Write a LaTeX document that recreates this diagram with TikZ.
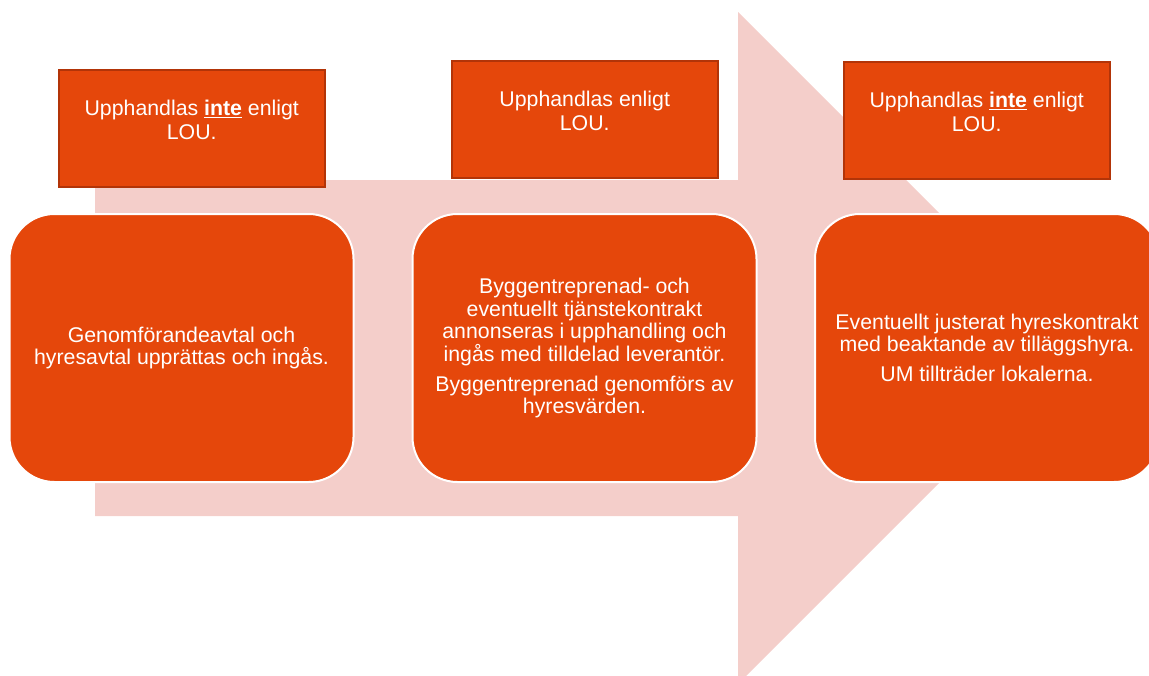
\documentclass[tikz,border=0pt]{standalone}
\usepackage{fontspec}
\setmainfont{Liberation Sans}
\definecolor{umorange}{RGB}{229,71,11}
\definecolor{loukant}{RGB}{178,52,8}
\definecolor{pil}{RGB}{244,206,202}
\newcommand{\toptxt}{\fontsize{21.3}{24}\selectfont}
\newcommand{\fastxt}{\fontsize{21.3}{22.5}\selectfont}
\newcommand{\loutext}[1]{\parbox[t][117pt][t]{266pt}{\centering\vspace*{30.5pt}#1}}
\begin{document}
\begin{tikzpicture}[x=1pt, y=-1pt,
  lou/.style={draw=loukant, line width=1.5pt, fill=umorange, text=white, inner sep=0pt, anchor=north west, font=\toptxt},
  fas/.style={draw=white, line width=2pt, fill=umorange, text=white, rounded corners=45pt, minimum width=344pt, minimum height=268pt, align=center, font=\fastxt}]
\useasboundingbox (0,0) rectangle (1149,675);
\clip (0,0) rectangle (1149,675);
% stor pil i bakgrunden
\fill[pil] (95,180) -- (738,180) -- (738,12) -- (1074,348) -- (738,684) -- (738,516) -- (95,516) -- cycle;
% LOU-rutor
\node[lou] (lou1) at (58,69) {\loutext{Upphandlas \underline{\textbf{inte}} enligt\\LOU.}};
\node[lou] (lou2) at (451,60) {\loutext{Upphandlas enligt\\LOU.}};
\node[lou] (lou3) at (843,61) {\loutext{Upphandlas \underline{\textbf{inte}} enligt\\LOU.}};
% faser
\node[fas] (fas1) at (181.5,348) {Genomförandeavtal och\\hyresavtal upprättas och ingås.};
\node[fas] (fas2) at (584.5,348) {Byggentreprenad- och\\eventuellt tjänstekontrakt\\annonseras i upphandling och\\ingås med tilldelad leverantör.\\[7.5pt]Byggentreprenad genomförs av\\hyresvärden.};
\node[fas] (fas3) at (987,348) {Eventuellt justerat hyreskontrakt\\med beaktande av tilläggshyra.\\[7.5pt]UM tillträder lokalerna.};
\end{tikzpicture}
\end{document}
